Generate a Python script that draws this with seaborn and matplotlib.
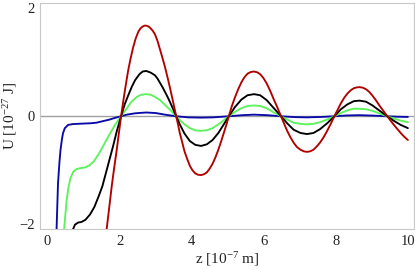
import matplotlib
matplotlib.use("Agg")
import matplotlib.pyplot as plt
import seaborn as sns
import pandas as pd
from matplotlib.ticker import MultipleLocator

# ---- data ----
red_x = [1.58, 1.64, 1.71, 1.78, 1.85, 1.92, 1.98, 2.04, 2.09, 2.14, 2.19, 2.24, 2.31, 2.38, 2.45, 2.52,
         2.58, 2.63, 2.69, 2.74, 2.80, 2.86, 2.92, 2.98, 3.05, 3.12, 3.19, 3.26, 3.33, 3.40, 3.48, 3.57,
         3.62, 3.67, 3.74, 3.80, 3.88, 3.95, 4.02, 4.10, 4.18, 4.26, 4.34, 4.42, 4.50, 4.58, 4.66, 4.74,
         4.82, 4.90, 4.97, 5.03, 5.11, 5.20, 5.29, 5.38, 5.46, 5.55, 5.64, 5.73, 5.82, 5.90, 5.99, 6.08,
         6.18, 6.28, 6.38, 6.48, 6.56, 6.65, 6.74, 6.83, 6.92, 7.02, 7.11, 7.20, 7.29, 7.38, 7.47, 7.56,
         7.66, 7.76, 7.86, 7.96, 8.05, 8.14, 8.23, 8.32, 8.41, 8.50, 8.58, 8.66, 8.75, 8.84, 8.93, 9.02,
         9.12, 9.22, 9.32, 9.43, 9.52, 9.60, 9.70, 9.80, 9.90, 10.0]
red_y = [-2.4, -2.09, -1.70, -1.30, -0.95, -0.62, -0.31, 0.0, 0.23, 0.45, 0.66, 0.86, 1.09, 1.29, 1.45, 1.57,
         1.63, 1.66, 1.68, 1.68, 1.665, 1.63, 1.585, 1.52, 1.40, 1.24, 1.08, 0.91, 0.72, 0.52, 0.28, 0.0,
         -0.15, -0.31, -0.49, -0.65, -0.80, -0.92, -1.00, -1.06, -1.085, -1.09, -1.075, -1.04, -0.97, -0.88, -0.76, -0.62,
         -0.46, -0.29, -0.14, 0.0, 0.18, 0.35, 0.50, 0.63, 0.72, 0.79, 0.82, 0.83, 0.815, 0.78, 0.71, 0.61,
         0.47, 0.31, 0.16, 0.0, -0.13, -0.27, -0.39, -0.49, -0.57, -0.62, -0.65, -0.66, -0.65, -0.62, -0.56, -0.49,
         -0.39, -0.27, -0.14, 0.0, 0.12, 0.24, 0.34, 0.42, 0.48, 0.52, 0.535, 0.54, 0.53, 0.50, 0.45, 0.38,
         0.29, 0.19, 0.10, 0.0, -0.08, -0.15, -0.23, -0.31, -0.38, -0.44]

black_x = [0.68, 0.71, 0.76, 0.85, 0.94, 1.05, 1.18, 1.30, 1.42, 1.52, 1.62, 1.72, 1.82, 1.92, 2.04,
           2.14, 2.24, 2.34, 2.43, 2.55, 2.64, 2.74, 2.86, 2.98, 3.05, 3.12, 3.19, 3.26, 3.33, 3.40, 3.48, 3.57, 3.67, 3.80,
           3.95, 4.10, 4.26, 4.42, 4.58, 4.74, 4.90, 5.03, 5.20, 5.38, 5.55, 5.73, 5.90, 6.08, 6.28,
           6.48, 6.65, 6.83, 7.02, 7.20, 7.38, 7.56, 7.76, 7.96, 8.14, 8.32, 8.50, 8.66, 8.84, 9.02,
           9.22, 9.43, 9.60, 9.80, 10.0]
black_y = [-2.3, -2.09, -2.01, -1.97, -1.96, -1.92, -1.82, -1.68, -1.48, -1.30, -1.05, -0.80, -0.55, -0.28, 0.0,
           0.22, 0.39, 0.55, 0.67, 0.78, 0.83, 0.84, 0.81, 0.76, 0.70, 0.62, 0.54, 0.45, 0.36, 0.26, 0.14, 0.0, -0.15, -0.32,
           -0.46, -0.53, -0.55, -0.52, -0.44, -0.31, -0.14, 0.0, 0.17, 0.31, 0.39, 0.41, 0.39, 0.30, 0.15,
           0.0, -0.13, -0.25, -0.31, -0.33, -0.31, -0.24, -0.13, 0.0, 0.13, 0.22, 0.28, 0.29, 0.27, 0.20,
           0.10, 0.0, -0.08, -0.16, -0.22]

green_x = [0.44, 0.46, 0.53, 0.58, 0.63, 0.71, 0.80, 0.92, 1.04, 1.16, 1.28, 1.40, 1.52, 1.64, 1.76,
           1.88, 2.04, 2.18, 2.33, 2.48, 2.60, 2.74, 2.86, 2.98, 3.12, 3.26, 3.40, 3.57, 3.67, 3.80,
           3.95, 4.10, 4.26, 4.42, 4.58, 4.74, 4.90, 5.03, 5.20, 5.38, 5.55, 5.73, 5.90, 6.08, 6.28,
           6.48, 6.65, 6.83, 7.02, 7.20, 7.38, 7.56, 7.76, 7.96, 8.14, 8.32, 8.50, 8.66, 8.84, 9.02,
           9.22, 9.43, 9.60, 9.80, 10.0]
green_y = [-2.3, -2.09, -1.55, -1.32, -1.16, -1.03, -0.98, -0.96, -0.95, -0.91, -0.84, -0.72, -0.58, -0.43, -0.29,
           -0.15, 0.0, 0.13, 0.27, 0.36, 0.40, 0.41, 0.40, 0.36, 0.30, 0.21, 0.12, 0.0, -0.07, -0.15,
           -0.22, -0.26, -0.27, -0.26, -0.22, -0.15, -0.07, 0.0, 0.08, 0.15, 0.19, 0.20, 0.19, 0.15, 0.07,
           0.0, -0.06, -0.12, -0.14, -0.15, -0.14, -0.11, -0.06, 0.0, 0.06, 0.11, 0.14, 0.14, 0.13, 0.10,
           0.05, 0.0, -0.04, -0.08, -0.11]

blue_x = [0.24, 0.25, 0.29, 0.33, 0.36, 0.40, 0.43, 0.48, 0.57, 0.70, 0.85, 1.00, 1.18, 1.35, 1.54,
          1.70, 1.87, 2.04, 2.20, 2.43, 2.74, 3.00, 3.26, 3.57, 3.90, 4.26, 4.60, 5.03, 5.40, 5.73,
          6.10, 6.48, 6.85, 7.20, 7.60, 7.96, 8.30, 8.66, 9.05, 9.43, 9.70, 10.0]
blue_y = [-2.3, -2.09, -1.24, -0.85, -0.62, -0.42, -0.31, -0.22, -0.16, -0.145, -0.14, -0.135, -0.13, -0.12, -0.09,
          -0.065, -0.03, 0.0, 0.03, 0.055, 0.07, 0.06, 0.03, 0.0, -0.02, -0.025, -0.02, 0.0, 0.02, 0.03,
          0.02, 0.0, -0.015, -0.02, -0.012, 0.0, 0.015, 0.02, 0.012, 0.0, -0.008, -0.012]

x_ticks = [0, 2, 4, 6, 8, 10]
y_ticks = [-2, 0, 2]
x_label = "z [10$^{-7}$ m]"
y_label = "U [10$^{-27}$ J]"

series = {"red": (red_x, red_y), "black": (black_x, black_y),
          "green": (green_x, green_y), "blue": (blue_x, blue_y)}
palette = {"red": "#b20000", "black": "#000000", "green": "#5cf25c", "blue": "#0a0aa8"}

frames = []
for name, (xs, ys) in series.items():
    frames.append(pd.DataFrame({"z": xs, "U": ys, "curve": name}))
df = pd.concat(frames, ignore_index=True)

# ---- plotting ----
sns.set_style("white")
plt.rcParams["font.family"] = ["Liberation Serif", "DejaVu Serif"]
plt.rcParams["mathtext.fontset"] = "custom"
plt.rcParams["mathtext.rm"] = "Liberation Serif"
plt.rcParams["mathtext.it"] = "Liberation Serif:italic"

fig = plt.figure(figsize=(4.15, 2.69), dpi=100)
ax = fig.add_axes([40 / 415, 1 - 229 / 269, (414 - 40) / 415, (229 - 3) / 269])

ax.axhline(0, color="#a0a0a0", lw=1.0, zorder=1)

for name in ["blue", "green", "black", "red"]:
    sub = df[df["curve"] == name]
    sns.lineplot(data=sub, x="z", y="U", color=palette[name], lw=1.35,
                 sort=False, estimator=None, ax=ax, legend=False, zorder=3)

ax.set_xlim(-0.21, 10.17)
ax.set_ylim(-2.09, 2.1)
ax.set_xticks(x_ticks)
ax.set_yticks(y_ticks)
ax.set_yticklabels(["\u22122", "0", "2"])
ax.xaxis.set_minor_locator(MultipleLocator(1))
ax.yaxis.set_minor_locator(MultipleLocator(1))

for s in ax.spines.values():
    s.set_color("#c8c8c8")
    s.set_linewidth(0.8)

ax.tick_params(which="major", direction="in", length=4, width=0.6, color="#b0b0b0",
               labelsize=10.5, labelcolor="#222222", pad=4)
ax.tick_params(which="minor", direction="in", length=2, width=0.5, color="#b0b0b0")

ax.set_xlabel(x_label, fontsize=11, color="#222222", labelpad=2)
ax.set_ylabel(y_label, fontsize=11, color="#222222")
ax.yaxis.set_label_coords(-0.056, 0.5)

fig.savefig("out.png", dpi=100)
